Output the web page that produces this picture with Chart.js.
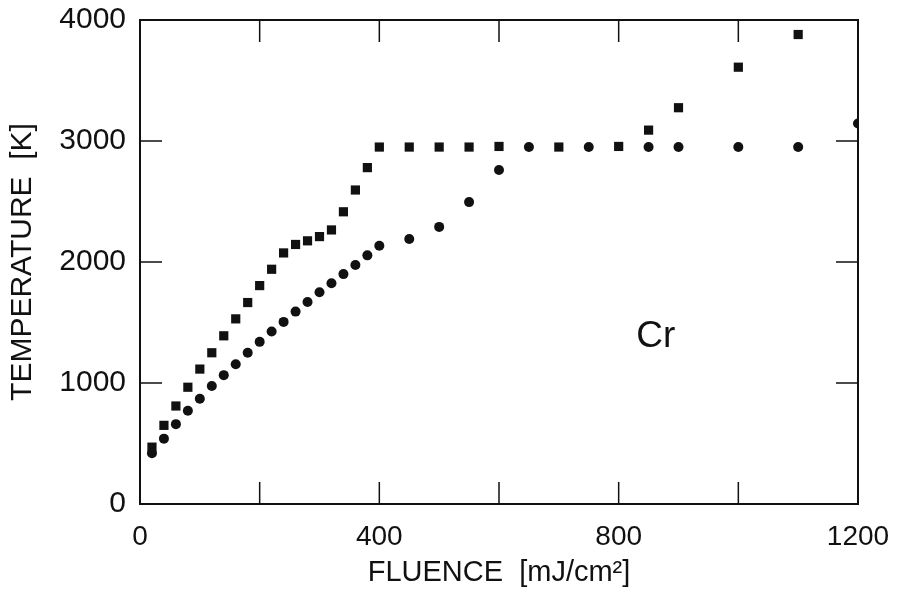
<!DOCTYPE html>
<html>
<head>
<meta charset="utf-8">
<script src="https://cdn.jsdelivr.net/npm/chart.js@4/dist/chart.umd.min.js"></script>
<style>
  html, body { margin: 0; padding: 0; background: #fff; }
  #wrap { width: 899px; height: 590px; }
</style>
</head>
<body>
<div id="wrap"><canvas id="chart" width="899" height="590"></canvas></div>
<script>
// squares (upper series)
const squareX = [20, 40, 60, 80, 100, 120, 140, 160, 180, 200, 220, 240, 260, 280, 300, 320, 340, 360, 380, 400,
                 450, 500, 550, 600, 700, 800, 850, 900, 1000, 1100];
const squareY = [470, 650, 810, 965, 1115, 1250, 1390, 1530, 1665, 1805, 1940, 2075, 2145, 2175, 2210, 2265, 2415, 2595, 2780, 2950,
                 2950, 2950, 2950, 2955, 2950, 2955, 3090, 3275, 3610, 3880];

// circles (lower series)
const circleX = [20, 40, 60, 80, 100, 120, 140, 160, 180, 200, 220, 240, 260, 280, 300, 320, 340, 360, 380, 400,
                 450, 500, 550, 600, 650, 750, 850, 900, 1000, 1100, 1200];
const circleY = [420, 540, 660, 770, 870, 975, 1065, 1155, 1250, 1340, 1425, 1505, 1590, 1670, 1750, 1825, 1900, 1975, 2055, 2135,
                 2190, 2290, 2495, 2760, 2950, 2950, 2950, 2950, 2950, 2950, 3145];

const xTicks = [0, 200, 400, 600, 800, 1000, 1200];
const xLabels = [0, 400, 800, 1200];
const yTicks = [0, 1000, 2000, 3000, 4000];

const FONT = '"Liberation Sans", Arial, Helvetica, sans-serif';

function toPoints(xs, ys) {
    return xs.map((x, i) => ({ x: x, y: ys[i] }));
}

// frame, inward ticks and the "Cr" label
const framePlugin = {
    id: 'frame',
    afterDraw(chart) {
        const { ctx, chartArea: a, scales } = chart;
        const xs = scales.x, ys = scales.y;
        const len = 22;
        ctx.save();
        ctx.strokeStyle = '#111';
        ctx.lineWidth = 2;
        ctx.strokeRect(a.left, a.top, a.right - a.left, a.bottom - a.top);
        ctx.lineWidth = 1.5;
        ctx.beginPath();
        xTicks.slice(1, -1).forEach(v => {
            const px = xs.getPixelForValue(v);
            ctx.moveTo(px, a.bottom); ctx.lineTo(px, a.bottom - len);
            ctx.moveTo(px, a.top); ctx.lineTo(px, a.top + len);
        });
        yTicks.slice(1, -1).forEach(v => {
            const py = ys.getPixelForValue(v);
            ctx.moveTo(a.left, py); ctx.lineTo(a.left + len, py);
            ctx.moveTo(a.right, py); ctx.lineTo(a.right - len, py);
        });
        ctx.stroke();

        ctx.fillStyle = '#111';
        ctx.font = '37px ' + FONT;
        ctx.textAlign = 'center';
        ctx.textBaseline = 'alphabetic';
        ctx.fillText('Cr', xs.getPixelForValue(862), ys.getPixelForValue(1295));
        ctx.restore();
    }
};

const ctx = document.getElementById('chart');
new Chart(ctx, {
    type: 'scatter',
    data: {
        datasets: [
            {
                label: 'squares',
                data: toPoints(squareX, squareY),
                pointStyle: 'rect',
                pointRadius: 6.5,
                backgroundColor: '#111',
                borderColor: '#111',
                borderWidth: 0
            },
            {
                label: 'circles',
                data: toPoints(circleX, circleY),
                pointStyle: 'circle',
                pointRadius: 5,
                backgroundColor: '#111',
                borderColor: '#111',
                borderWidth: 0
            }
        ]
    },
    options: {
        responsive: false,
        animation: false,
        layout: { padding: { top: 20, right: 41, left: 0, bottom: 0 } },
        plugins: {
            legend: { display: false },
            tooltip: { enabled: false }
        },
        scales: {
            x: {
                type: 'linear',
                min: 0,
                max: 1200,
                border: { display: false },
                grid: { display: false, drawTicks: false },
                afterBuildTicks: scale => { scale.ticks = xTicks.map(v => ({ value: v })); },
                afterFit: scale => {
                    scale.height = 86;
                    scale.paddingLeft = 0;
                    scale.paddingRight = 0;
                },
                ticks: {
                    autoSkip: false,
                    maxRotation: 0,
                    padding: 16,
                    color: '#111',
                    font: { family: FONT, size: 28 },
                    callback: v => xLabels.includes(v) ? String(v) : ''
                },
                title: {
                    display: true,
                    text: 'FLUENCE  [mJ/cm\u00B2]',
                    color: '#111',
                    font: { family: FONT, size: 29 },
                    padding: { top: 0, bottom: 0 }
                }
            },
            y: {
                type: 'linear',
                min: 0,
                max: 4000,
                border: { display: false },
                grid: { display: false, drawTicks: false },
                afterBuildTicks: scale => { scale.ticks = yTicks.map(v => ({ value: v })); },
                afterFit: scale => {
                    scale.width = 140;
                    scale.paddingTop = 0;
                    scale.paddingBottom = 0;
                },
                ticks: {
                    padding: 14,
                    color: '#111',
                    font: { family: FONT, size: 30 },
                    callback: v => String(v)
                },
                title: {
                    display: true,
                    text: 'TEMPERATURE  [K]',
                    color: '#111',
                    font: { family: FONT, size: 30 },
                    padding: { top: 5, bottom: 0 }
                }
            }
        }
    },
    plugins: [framePlugin]
});
</script>
</body>
</html>
